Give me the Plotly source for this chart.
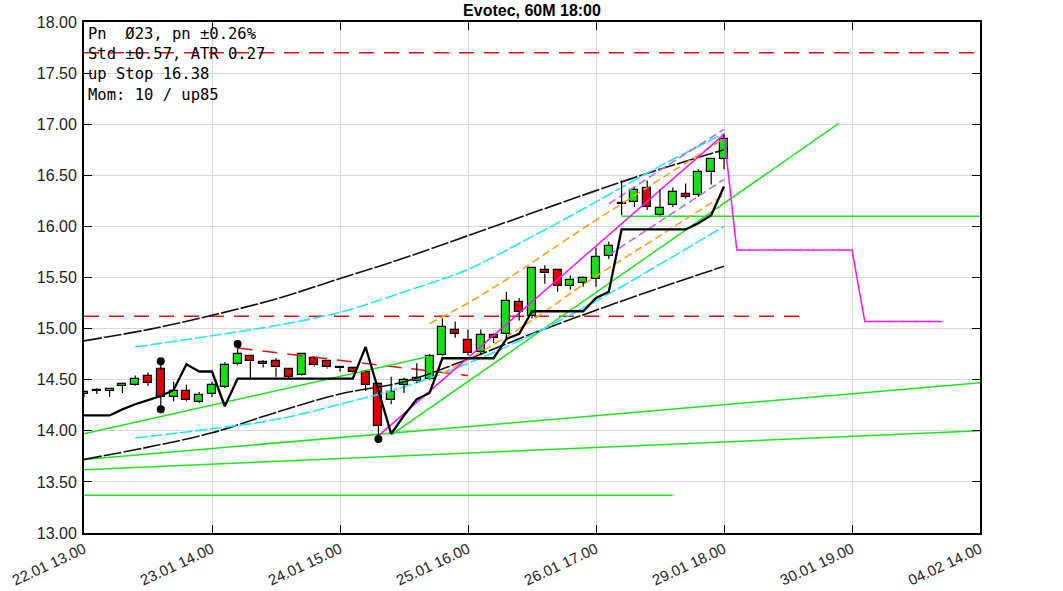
import plotly.graph_objects as go

# ---------------- data ----------------
x_labels = ["22.01 13.00", "23.01 14.00", "24.01 15.00", "25.01 16.00",
            "26.01 17.00", "29.01 18.00", "30.01 19.00", "04.02 14.00"]
x_label_pos = [0, 10, 20, 30, 40, 50, 60, 70]

opens  = [14.36, 14.39, 14.39, 14.44, 14.45, 14.54, 14.60, 14.33, 14.39, 14.28,
          14.36, 14.43, 14.65, 14.73, 14.67, 14.68, 14.60, 14.55, 14.71, 14.68,
          14.61, 14.61, 14.58, 14.46, 14.30, 14.45, 14.49, 14.51, 14.74, 14.99,
          14.89, 14.77, 14.94, 14.95, 15.26, 15.12, 15.57, 15.57, 15.42, 15.45,
          15.49, 15.71, 16.22, 16.24, 16.38, 16.11, 16.21, 16.32, 16.31, 16.53,
          16.66]
highs  = [14.39, 14.42, 14.42, 14.47, 14.54, 14.57, 14.68, 14.48, 14.45, 14.38,
          14.48, 14.67, 14.85, 14.74, 14.69, 14.71, 14.61, 14.75, 14.72, 14.69,
          14.63, 14.62, 14.59, 14.47, 14.53, 14.52, 14.66, 14.75, 15.10, 15.07,
          14.99, 14.99, 14.95, 15.36, 15.30, 15.59, 15.62, 15.58, 15.52, 15.51,
          15.79, 15.85, 16.45, 16.38, 16.45, 16.36, 16.38, 16.42, 16.56, 16.66,
          16.90]
lows   = [14.33, 14.36, 14.33, 14.37, 14.44, 14.44, 14.21, 14.29, 14.29, 14.27,
          14.33, 14.42, 14.64, 14.50, 14.62, 14.53, 14.51, 14.54, 14.63, 14.61,
          14.58, 14.57, 14.39, 13.92, 14.26, 14.37, 14.47, 14.50, 14.73, 14.91,
          14.74, 14.75, 14.86, 14.90, 15.08, 15.10, 15.44, 15.36, 15.38, 15.41,
          15.41, 15.68, 16.11, 16.19, 16.16, 16.10, 16.19, 16.27, 16.29, 16.41,
          16.56]
closes = [14.38, 14.39, 14.41, 14.46, 14.51, 14.47, 14.33, 14.39, 14.30, 14.35,
          14.45, 14.64, 14.75, 14.68, 14.65, 14.62, 14.53, 14.75, 14.64, 14.62,
          14.61, 14.58, 14.45, 14.05, 14.38, 14.50, 14.52, 14.73, 15.02, 14.95,
          14.76, 14.94, 14.91, 15.27, 15.16, 15.59, 15.54, 15.42, 15.48, 15.50,
          15.70, 15.81, 16.22, 16.36, 16.19, 16.18, 16.34, 16.29, 16.53, 16.66,
          16.86]

# trailing stop (thick black)
stop_vals = [14.15, 14.15, 14.15, 14.21, 14.26, 14.30, 14.34, 14.40, 14.65, 14.58,
             14.58, 14.24, 14.51, 14.51, 14.51, 14.51, 14.51, 14.51, 14.51, 14.51,
             14.51, 14.51, 14.82, 14.40, 13.97, 14.15, 14.31, 14.37, 14.71, 14.71,
             14.71, 14.71, 14.71, 14.90, 14.95, 15.17, 15.17, 15.17, 15.17, 15.17,
             15.30, 15.36, 15.97, 15.97, 15.97, 15.97, 15.97, 15.97, 16.03, 16.11,
             16.39]

band_idx = [0, 5, 10, 15, 20, 25, 30, 35, 40, 45, 50]
band_up  = [14.88, 14.99, 15.13, 15.29, 15.49, 15.69, 15.91, 16.13, 16.35, 16.56, 16.75]
band_lo  = [13.72, 13.84, 13.98, 14.18, 14.36, 14.48, 14.70, 14.95, 15.18, 15.40, 15.61]

cyan_idx = [4, 10, 15, 20, 25, 30, 35, 40, 45, 50]
cyan_up  = [14.82, 14.93, 15.03, 15.16, 15.36, 15.58, 15.90, 16.24, 16.59, 16.91]
cyan_lo  = [13.93, 14.02, 14.11, 14.26, 14.43, 14.66, 14.94, 15.27, 15.63, 16.00]

orange_up_idx = [27, 30, 33, 39, 45, 50]
orange_up     = [15.05, 15.25, 15.48, 15.98, 16.46, 16.86]
orange_lo_idx = [28, 31, 35, 39, 45, 50]
orange_lo     = [14.56, 14.77, 15.08, 15.43, 15.91, 16.31]

purple_idx = [41, 45, 50]
purple_up  = [16.22, 16.55, 16.95]
purple_lo  = [15.72, 16.05, 16.46]

magenta_trend_idx = [23, 50]
magenta_trend     = [13.95, 16.90]
magenta_fc_idx = list(range(50, 68))
magenta_fc     = [16.90] + [15.77] * 10 + [15.07] * 7

green_lines = [
    ([0, 27], [13.97, 14.73]),
    ([24, 59], [13.96, 17.01]),
    ([0, 70], [13.72, 14.47]),
    ([0, 70], [13.62, 14.00]),
    ([0, 46], [13.37, 13.37]),
    ([42, 70], [16.10, 16.10]),
]
red_lines = [
    ([0, 70], [17.70, 17.70]),
    ([0, 56], [15.12, 15.12]),
    ([12, 30], [14.81, 14.54]),
]

dot_idx  = [6, 6, 12, 23]
dot_vals = [14.68, 14.21, 14.85, 13.92]

info_lines = ["Pn  Ø23, pn ±0.26%", "Std ±0.57, ATR 0.27",
              "up Stop 16.38", "Mom: 10 / up85"]
title_text = "Evotec, 60M 18:00"

# ---------------- figure ----------------
GREEN = "#14e014"
RED = "#e00000"
fig = go.Figure()

# red dashed levels
for xs, ys in red_lines:
    fig.add_trace(go.Scatter(x=xs, y=ys, mode="lines",
                             line=dict(color="#e41010", width=1.5, dash="15px,10px")))

# green lines
for xs, ys in green_lines:
    fig.add_trace(go.Scatter(x=xs, y=ys, mode="lines",
                             line=dict(color="#1ee61e", width=1.5)))

# bands
for ys in (band_up, band_lo):
    fig.add_trace(go.Scatter(x=band_idx, y=ys, mode="lines", line_shape="spline",
                             line=dict(color="#111111", width=1.6, dash="18px,2px")))
for ys in (cyan_up, cyan_lo):
    fig.add_trace(go.Scatter(x=cyan_idx, y=ys, mode="lines", line_shape="spline",
                             line=dict(color="#22e6ff", width=1.6, dash="12px,3px")))
fig.add_trace(go.Scatter(x=orange_up_idx, y=orange_up, mode="lines", line_shape="spline",
                         line=dict(color="#ffa11a", width=1.6, dash="8px,4px")))
fig.add_trace(go.Scatter(x=orange_lo_idx, y=orange_lo, mode="lines", line_shape="spline",
                         line=dict(color="#ffa11a", width=1.6, dash="8px,4px")))
for ys in (purple_up, purple_lo):
    fig.add_trace(go.Scatter(x=purple_idx, y=ys, mode="lines",
                             line=dict(color="#b46cff", width=1.6, dash="8px,4px")))

# magenta
fig.add_trace(go.Scatter(x=magenta_trend_idx, y=magenta_trend, mode="lines",
                         line=dict(color="#ff10ff", width=1.5)))
fig.add_trace(go.Scatter(x=magenta_fc_idx, y=magenta_fc, mode="lines+markers",
                         line=dict(color="#ff10ff", width=1.5),
                         marker=dict(symbol="line-ns", size=2.5,
                                     line=dict(color="#ff66ff", width=0.8))))

# stop line
fig.add_trace(go.Scatter(x=list(range(len(stop_vals))), y=stop_vals, mode="lines",
                         line=dict(color="#000000", width=2.3)))

# candles: wicks
wx, wy = [], []
for i, (o, h, l, c) in enumerate(zip(opens, highs, lows, closes)):
    top, bot = max(o, c), min(o, c)
    wx += [i, i, None, i, i, None]
    wy += [h, top, None, bot, l, None]
fig.add_trace(go.Scatter(x=wx, y=wy, mode="lines",
                         line=dict(color="#000000", width=1.2)))

# candles: bodies (as bars through the axis scale)
bases, heights, colors = [], [], []
for o, c in zip(opens, closes):
    bases.append(min(o, c))
    h = abs(c - o)
    if h < 0.012:
        heights.append(0.012)
        colors.append("#555555")
    else:
        heights.append(h)
        colors.append(GREEN if c > o else RED)
fig.add_trace(go.Bar(x=list(range(len(opens))), y=heights, base=bases, width=0.62,
                     marker=dict(color=colors, line=dict(color="#000000", width=1.2))))

# dots
fig.add_trace(go.Scatter(x=dot_idx, y=dot_vals, mode="markers",
                         marker=dict(color="#000000", size=8)))

# info text
line_px = [33.5, 54.0, 74.5, 95.0]
for txt, py in zip(info_lines, line_px):
    fig.add_annotation(text=txt, xref="paper", yref="paper",
                       x=0, y=(533 - py) / 511, xanchor="left", yanchor="middle",
                       xshift=2, showarrow=False,
                       font=dict(family="DejaVu Sans Mono", size=15.5, color="#000000"))

fig.update_layout(
    width=1063, height=591,
    margin=dict(l=84, r=83, t=22, b=58, autoexpand=False),
    paper_bgcolor="white", plot_bgcolor="white",
    showlegend=False, barmode="overlay", bargap=0,
    title=dict(text="<b>" + title_text + "</b>", x=0.5, xref="paper",
               y=(591 - 10) / 591, yanchor="middle",
               font=dict(family="Liberation Sans", size=16, color="#000000")),
    xaxis=dict(range=[0, 70], tickvals=x_label_pos, ticktext=x_labels,
               tickangle=-25, showgrid=True, gridcolor="#d9d9d9", gridwidth=1,
               showline=True, linecolor="#000000", linewidth=2, mirror="ticks",
               ticks="inside", ticklen=8, tickcolor="#000000", zeroline=False,
               automargin=False,
               tickfont=dict(family="Liberation Sans", size=15, color="#222222")),
    yaxis=dict(range=[13, 18], dtick=0.5, tick0=13, tickformat=".2f",
               showgrid=True, gridcolor="#d9d9d9", gridwidth=1,
               showline=True, linecolor="#000000", linewidth=2, mirror="ticks",
               ticks="inside", ticklen=8, tickcolor="#000000", zeroline=False,
               automargin=False, ticklabelstandoff=2,
               tickfont=dict(family="Liberation Sans", size=16, color="#222222")),
)

fig.write_html("out.html",
               config={"displayModeBar": False},
               post_script="document.body.style.margin='0px';"
                           "document.body.style.padding='0px';"
                           "document.body.style.overflow='hidden';")
